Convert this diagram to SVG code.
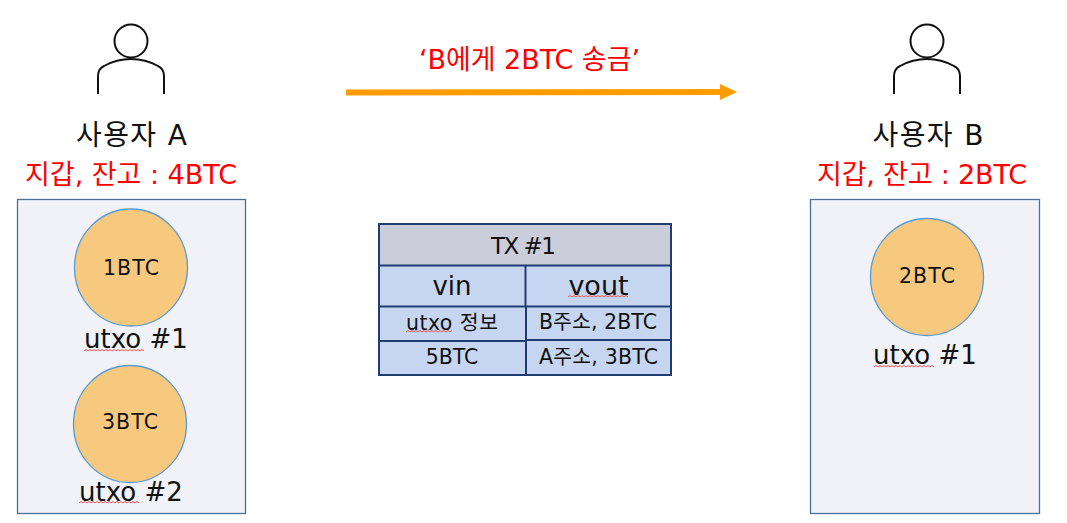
<svg xmlns="http://www.w3.org/2000/svg" width="1067" height="523" viewBox="0 0 1067 523">
<defs>
<marker id="arr" markerUnits="userSpaceOnUse" markerWidth="18" markerHeight="18" refX="0" refY="9" orient="auto"><path d="M0 1 L17 9 L0 17 Z" fill="#ff9c00"/></marker>
<g id="person" fill="none" stroke="#111" stroke-width="2"><circle cx="0" cy="0" r="16.500"/><path d="M-33 53 V35 C-33 30 -31 27 -27 25 C-18 20 -9 18 0 18 C9 18 18 20 27 25 C31 27 33 30 33 35 V53"/></g>
</defs>
<style>
text{font-family:"DejaVu Sans","Noto Sans CJK KR",sans-serif;text-anchor:middle;fill:#111}
.wallet{fill:#f0f2f7;stroke:#4a7094;stroke-width:1.300}
.coin{fill:#f7c97f;stroke:#5b9bd5;stroke-width:1.300}
.t26{font-size:26px}.t18{font-size:20.500px}.t28{font-size:28px}
.red{fill:#f00;font-size:27px}
.cell{fill:#c7d6f0}.line{stroke:#1f3d73;stroke-width:2;fill:none}
.sq{fill:none;stroke:#e8555a;stroke-width:1}
</style>
<rect width="1067" height="523" fill="#fff"/>
<g id="connectors"><line x1="346" y1="92.500" x2="720" y2="92" stroke="#ff9c00" stroke-width="6" marker-end="url(#arr)"/></g>
<g id="transfer-label"><text x="529.500" y="69" class="red" textLength="221">‘B에게 2BTC 송금’</text></g>
<g id="user-a"><use href="#person" x="131" y="41"/><text x="131.500" y="145" class="t28" textLength="111">사용자 A</text><text x="131" y="184" class="red" textLength="212">지갑, 잔고 : 4BTC</text></g>
<g id="user-b"><use href="#person" x="927" y="41"/><text x="928" y="145" class="t28" textLength="111">사용자 B</text><text x="922" y="184" class="red" textLength="210">지갑, 잔고 : 2BTC</text></g>
<g id="wallet-a"><rect x="17.500" y="199.500" width="228" height="314" class="wallet"/></g>
<g id="wallet-b"><rect x="810.500" y="199.500" width="229" height="314" class="wallet"/></g>
<g id="coin-1"><ellipse cx="131" cy="267.500" rx="56.500" ry="58.500" class="coin"/><text x="131" y="274.500" class="t18" textLength="56">1BTC</text><text x="136" y="348" class="t26">utxo #1</text><path class="sq" d="M84 351 l2 -1.500 l2 1.500 l2 -1.500 l2 1.500 l2 -1.500 l2 1.500 l2 -1.500 l2 1.500 l2 -1.500 l2 1.500 l2 -1.500 l2 1.500 l2 -1.500 l2 1.500 l2 -1.500 l2 1.500 l2 -1.500 l2 1.500 l2 -1.500 l2 1.500 l2 -1.500 l2 1.500 l2 -1.500 l2 1.500 l2 -1.500 l2 1.500 l2 -1.500 l2 1.500 l2 -1.500 l2 1.500"/></g>
<g id="coin-2"><ellipse cx="130" cy="424" rx="56.500" ry="58.500" class="coin"/><text x="130" y="429" class="t18" textLength="56">3BTC</text><text x="131" y="501" class="t26">utxo #2</text><path class="sq" d="M79 503 l2 -1.500 l2 1.500 l2 -1.500 l2 1.500 l2 -1.500 l2 1.500 l2 -1.500 l2 1.500 l2 -1.500 l2 1.500 l2 -1.500 l2 1.500 l2 -1.500 l2 1.500 l2 -1.500 l2 1.500 l2 -1.500 l2 1.500 l2 -1.500 l2 1.500 l2 -1.500 l2 1.500 l2 -1.500 l2 1.500 l2 -1.500 l2 1.500 l2 -1.500 l2 1.500 l2 -1.500 l2 1.500"/></g>
<g id="coin-3"><ellipse cx="927" cy="277" rx="56.500" ry="58.500" class="coin"/><text x="927" y="283" class="t18" textLength="56">2BTC</text><text x="925" y="364" class="t26">utxo #1</text><path class="sq" d="M874 367 l2 -1.500 l2 1.500 l2 -1.500 l2 1.500 l2 -1.500 l2 1.500 l2 -1.500 l2 1.500 l2 -1.500 l2 1.500 l2 -1.500 l2 1.500 l2 -1.500 l2 1.500 l2 -1.500 l2 1.500 l2 -1.500 l2 1.500 l2 -1.500 l2 1.500 l2 -1.500 l2 1.500 l2 -1.500 l2 1.500 l2 -1.500 l2 1.500 l2 -1.500 l2 1.500 l2 -1.500 l2 1.500"/></g>
<g id="tx-table">
<rect x="379" y="224" width="292" height="41.500" fill="#cbcdda"/>
<rect x="379" y="265.500" width="292" height="109.500" class="cell"/>
<rect x="379" y="224" width="292" height="151" class="line"/>
<path class="line" d="M379 265.500 H671 M379 306.500 H671 M379 341 H526 M526 340 H671 M525.500 265.500 V306.500 M526 306.500 V375"/>
<text x="523.500" y="254" style="font-size:23px" textLength="65">TX #1</text>
<text x="452" y="295" class="t26">vin</text>
<text x="598.500" y="295" style="font-size:27px">vout</text>
<text x="452" y="330" class="t18" textLength="92">utxo 정보</text>
<text x="598" y="329" class="t18" textLength="118">B주소, 2BTC</text>
<text x="452" y="364" class="t18">5BTC</text>
<text x="598.500" y="364" class="t18" textLength="119">A주소, 3BTC</text>
<path class="sq" d="M406 332 l2 -1.500 l2 1.500 l2 -1.500 l2 1.500 l2 -1.500 l2 1.500 l2 -1.500 l2 1.500 l2 -1.500 l2 1.500 l2 -1.500 l2 1.500 l2 -1.500 l2 1.500 l2 -1.500 l2 1.500 l2 -1.500 l2 1.500 l2 -1.500 l2 1.500 l2 -1.500 l2 1.500 l2 -1.500"/>
<path class="sq" d="M568 297 l2 -1.500 l2 1.500 l2 -1.500 l2 1.500 l2 -1.500 l2 1.500 l2 -1.500 l2 1.500 l2 -1.500 l2 1.500 l2 -1.500 l2 1.500 l2 -1.500 l2 1.500 l2 -1.500 l2 1.500 l2 -1.500 l2 1.500 l2 -1.500 l2 1.500 l2 -1.500 l2 1.500 l2 -1.500 l2 1.500 l2 -1.500 l2 1.500 l2 -1.500 l2 1.500 l2 -1.500 l2 1.500"/>
</g>
</svg>
